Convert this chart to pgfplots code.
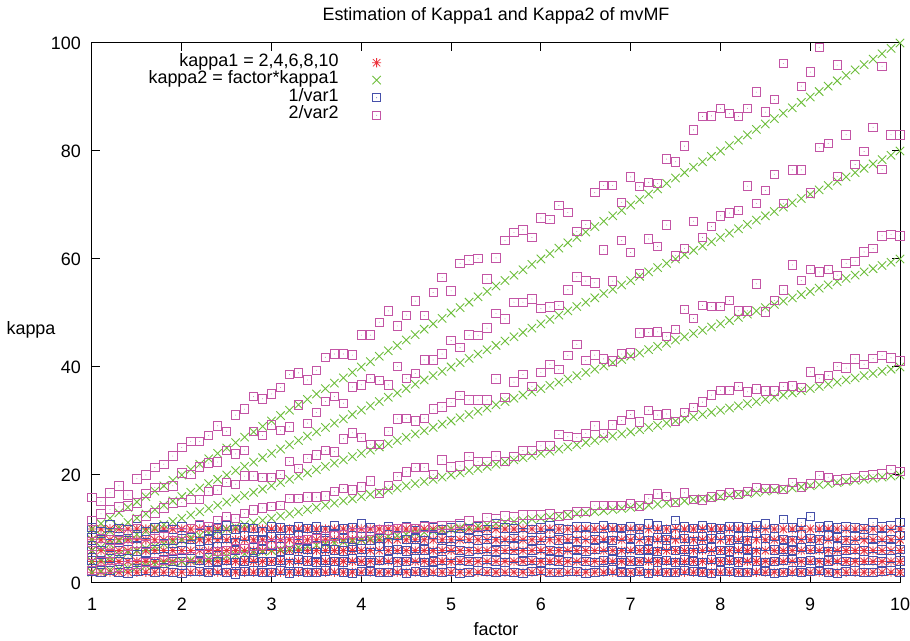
\documentclass[border=0pt]{standalone}
\usepackage{pgfplots}
\pgfplotsset{compat=1.18}
\usepackage{pgfplotstable}
\usepackage{fontspec}
\setmainfont{Liberation Sans}
\definecolor{gpred}{RGB}{236,50,60}
\definecolor{gpgreen}{RGB}{110,190,60}
\definecolor{gpblue}{RGB}{70,80,170}
\definecolor{gpmag}{RGB}{195,85,165}
\pgfdeclareplotmark{gpast}{%
  \pgfpathmoveto{\pgfqpoint{-\pgfplotmarksize}{0pt}}%
  \pgfpathlineto{\pgfqpoint{\pgfplotmarksize}{0pt}}%
  \pgfpathmoveto{\pgfqpoint{0pt}{-\pgfplotmarksize}}%
  \pgfpathlineto{\pgfqpoint{0pt}{\pgfplotmarksize}}%
  \pgfpathmoveto{\pgfqpoint{-0.8\pgfplotmarksize}{-0.8\pgfplotmarksize}}%
  \pgfpathlineto{\pgfqpoint{0.8\pgfplotmarksize}{0.8\pgfplotmarksize}}%
  \pgfpathmoveto{\pgfqpoint{-0.8\pgfplotmarksize}{0.8\pgfplotmarksize}}%
  \pgfpathlineto{\pgfqpoint{0.8\pgfplotmarksize}{-0.8\pgfplotmarksize}}%
  \pgfusepathqstroke}
\pgfdeclareplotmark{gpx}{%
  \pgfpathmoveto{\pgfqpoint{-\pgfplotmarksize}{-\pgfplotmarksize}}%
  \pgfpathlineto{\pgfqpoint{\pgfplotmarksize}{\pgfplotmarksize}}%
  \pgfpathmoveto{\pgfqpoint{-\pgfplotmarksize}{\pgfplotmarksize}}%
  \pgfpathlineto{\pgfqpoint{\pgfplotmarksize}{-\pgfplotmarksize}}%
  \pgfusepathqstroke}
\pgfdeclareplotmark{gpsq}{%
  \pgfpathrectangle{\pgfqpoint{-\pgfplotmarksize}{-\pgfplotmarksize}}{\pgfqpoint{2\pgfplotmarksize}{2\pgfplotmarksize}}%
  \pgfusepathqstroke
  \pgfpathcircle{\pgfpointorigin}{0.45pt}\pgfusepathqfill}
\pgfplotsset{
  gpr/.style={only marks, color=gpred, mark=gpast, mark size=4.6bp, mark options={line width=0.8bp}},
  gpg/.style={only marks, color=gpgreen, mark=gpx, mark size=4.2bp, mark options={line width=0.9bp}},
  gpb/.style={only marks, color=gpblue, mark=gpsq, mark size=4.2bp, mark options={line width=0.9bp}},
  gpm/.style={only marks, color=gpmag, mark=gpsq, mark size=4.2bp, mark options={line width=0.9bp}},
}
\pgfplotstableread{
x r2 r4 r6 r8 r10 g2 g4 g6 g8 g10 b2 b4 b6 b8 b10 m2 m4 m6 m8 m10
1.0 2 4 6 8 10 2 4 6 8 10 2.1 4.2 6.3 8.4 10.3 2.3 5.2 7.6 11.5 15.8
1.1 2 4 6 8 10 2.2 4.4 6.6 8.8 11 1.9 3.8 5.7 7.6 9.6 2.5 5.6 8.2 12.8 15.1
1.2 2 4 6 8 10 2.4 4.8 7.2 9.6 12 2.3 4.5 6.6 8.8 10.8 2.7 5.5 8.0 13.6 16.7
1.3 2 4 6 8 10 2.6 5.2 7.8 10.4 13 2.0 4.0 5.9 8.1 10.1 2.9 6.3 9.4 14.1 18.0
1.4 2 4 6 8 10 2.8 5.6 8.4 11.2 14 1.8 3.7 6.1 7.8 9.8 3.3 6.8 9.0 14.3 16.3
1.5 2 4 6 8 10 3 6 9 12 15 2.2 4.3 6.8 8.5 10.5 3.4 7.4 11.7 14.8 19.3
1.6 2 4 6 8 10 3.2 6.4 9.6 12.8 16 2.4 4.1 5.6 7.4 9.5 3.8 7.1 12.4 16.6 20.0
1.7 2 4 6 8 10 3.4 6.8 10.2 13.6 17 1.9 3.6 6.2 8.3 10.2 3.9 8.3 13.0 17.7 21.4
1.8 2 4 6 8 10 3.6 7.2 10.8 14.4 18 2.1 4.4 6.4 8.9 10.4 4.2 8.6 13.9 17.7 22.0
1.9 2 4 6 8 10 3.8 7.6 11.4 15.2 19 2.0 4.0 5.8 7.9 9.9 4.5 9.4 14.8 18.0 23.5
2.0 2 4 6 8 10 4 8 12 16 20 1.8 3.9 6.0 8.2 10.4 4.7 9.3 14.9 20.4 25.1
2.1 2 4 6 8 10 4.2 8.4 12.6 16.8 21 2.2 4.6 6.5 8.6 10.0 4.9 10.1 15.5 20.1 26.2
2.2 2 4 6 8 10 4.4 8.8 13.2 17.6 22 2.1 4.2 5.5 7.7 10.7 5.3 10.8 15.5 21.5 26.2
2.3 2 4 6 8 10 4.6 9.2 13.8 18.4 23 1.9 3.8 6.3 8.0 9.7 5.4 10.5 16.9 22.2 27.3
2.4 2 4 6 8 10 4.8 9.6 14.4 19.2 24 2.3 4.0 6.7 9.0 10.2 5.8 11.6 17.2 22.4 29.1
2.5 2 4 6 8 10 5 10 15 20 25 2.0 4.3 5.9 8.3 10.6 5.9 12.3 18.6 24.6 28.1
2.6 2 4 6 8 10 5.2 10.4 15.6 20.8 26 1.7 3.7 6.1 7.5 9.9 6.3 12.0 18.3 23.9 31.1
2.7 2 4 6 8 10 5.4 10.8 16.2 21.6 27 2.1 4.1 6.4 8.7 10.3 6.4 12.9 19.8 24.6 32.2
2.8 2 4 6 8 10 5.6 11.2 16.8 22.4 28 2.2 4.5 5.7 8.1 10.1 6.8 13.5 19.8 28.1 34.5
2.9 2 4 6 8 10 5.8 11.6 17.4 23.2 29 1.9 3.9 6.2 7.9 9.6 6.9 13.9 19.5 27.3 34.1
3.0 2 4 6 8 10 6 12 18 24 30 2.0 4.0 6.9 8.5 10.5 7.2 14.2 19.5 29.3 35.0
3.1 2 4 6 8 10 6.2 12.4 18.6 24.8 31 2.3 4.2 5.8 8.2 10.2 7.3 14.4 20.1 28.3 36.2
3.2 2 4 6 8 10 6.4 12.8 19.2 25.6 32 1.8 3.6 6.0 7.6 9.8 7.6 15.7 22.5 28.9 38.6
3.3 2 4 6 8 10 6.6 13.2 19.8 26.4 33 2.1 4.4 6.5 8.9 10.4 7.9 15.7 21.2 33.0 38.9
3.4 2 4 6 8 10 6.8 13.6 20.4 27.2 34 2.0 4.1 6.2 8.0 10.1 8.1 15.9 23.1 29.6 37.6
3.5 2 4 6 8 10 7 14 21 28 35 1.9 3.8 5.6 8.4 10.4 8.2 15.9 23.7 31.6 39.4
3.6 2 4 6 8 10 7.2 14.4 21.6 28.8 36 2.2 4.3 6.4 7.8 9.7 8.6 16.1 24.5 33.6 41.8
3.7 2 4 6 8 10 7.4 14.8 22.2 29.6 37 2.4 4.0 6.1 9.1 10.6 8.7 16.9 24.3 34.5 42.4
3.8 2 4 6 8 10 7.6 15.2 22.8 30.4 38 2.0 3.9 5.9 8.2 10.0 9.0 17.5 26.7 33.3 42.4
3.9 2 4 6 8 10 7.8 15.6 23.4 31.2 39 1.8 4.6 6.6 7.7 10.3 9.3 17.2 27.8 36.3 42.2
4.0 2 4 6 8 10 8 16 24 32 40 2.1 4.1 6.3 8.6 10.9 9.3 17.8 26.9 36.7 45.9
4.1 2 4 6 8 10 8.2 16.4 24.6 32.8 41 2.2 3.7 5.7 8.0 10.2 9.6 18.9 25.7 37.9 45.9
4.2 2 4 6 8 10 8.4 16.8 25.2 33.6 42 1.9 4.2 6.8 8.3 9.8 9.9 16.6 25.7 37.5 48.3
4.3 2 4 6 8 10 8.6 17.2 25.8 34.4 43 2.0 4.4 6.0 7.5 10.5 9.8 18.1 28.1 36.7 50.4
4.4 2 4 6 8 10 8.8 17.6 26.4 35.2 44 2.3 3.9 6.2 8.8 10.1 10.1 19.7 30.4 40.1 47.6
4.5 2 4 6 8 10 9 18 27 36 45 1.8 4.0 5.9 8.1 10.4 10.3 20.6 30.5 37.9 49.6
4.6 2 4 6 8 10 9.2 18.4 27.6 36.8 46 2.1 4.5 6.5 8.4 9.7 10.1 21.4 30.0 38.8 52.2
4.7 2 4 6 8 10 9.4 18.8 28.2 37.6 47 2.0 3.8 6.1 7.9 10.6 10.4 21.4 30.5 41.3 49.5
4.8 2 4 6 8 10 9.6 19.2 28.8 38.4 48 2.2 4.1 5.6 9.0 10.2 10.4 20.1 32.2 41.3 53.8
4.9 2 4 6 8 10 9.8 19.6 29.4 39.2 49 1.9 4.3 6.4 8.2 9.9 10.7 22.8 32.6 42.4 56.6
5.0 2 4 6 8 10 10 20 30 40 50 2.1 3.6 6.7 7.8 10.3 10.7 21.5 33.4 44.9 54.1
5.1 2 4 6 8 10 10.2 20.4 30.6 40.8 51 1.8 4.2 6.0 8.6 10.7 11.0 21.7 34.7 43.6 59.2
5.2 2 4 6 8 10 10.4 20.8 31.2 41.6 52 2.0 4.0 5.8 8.3 10.0 11.5 23.4 33.9 45.9 59.8
5.3 2 4 6 8 10 10.6 21.2 31.8 42.4 53 2.3 3.9 6.3 8.0 10.4 10.6 22.5 33.9 45.8 60.1
5.4 2 4 6 8 10 10.8 21.6 32.4 43.2 54 2.1 4.4 6.5 8.9 9.8 12.1 22.5 33.9 47.2 56.3
5.5 2 4 6 8 10 11 22 33 44 55 1.9 4.1 5.9 7.7 10.9 12.0 23.5 37.8 49.9 60.2
5.6 2 4 6 8 10 11.2 22.4 33.6 44.8 56 2.2 3.8 6.2 8.5 10.2 12.4 22.5 34.4 48.9 63.4
5.7 2 4 6 8 10 11.4 22.8 34.2 45.6 57 2.0 4.6 6.9 8.2 10.1 12.2 23.4 37.2 52.0 64.9
5.8 2 4 6 8 10 11.6 23.2 34.8 46.4 58 1.8 4.0 5.7 8.7 10.9 12.6 24.5 38.6 52.0 65.4
5.9 2 4 6 8 10 11.8 23.6 35.4 47.2 59 2.1 4.2 6.1 7.9 9.9 12.6 24.6 36.4 52.6 64.0
6.0 2 4 6 8 10 12 24 36 48 60 2.3 3.7 6.4 8.4 10.3 12.6 25.4 39.0 50.8 67.6
6.1 2 4 6 8 10 12.2 24.4 36.6 48.8 61 2.0 4.3 6.0 9.2 10.6 12.8 25.4 40.5 51.1 67.3
6.2 2 4 6 8 10 12.4 24.8 37.2 49.6 62 1.9 4.1 5.8 8.0 10.0 12.3 27.5 39.5 51.4 69.9
6.3 2 4 6 8 10 12.6 25.2 37.8 50.4 63 2.2 3.9 6.6 8.3 9.8 12.6 27.1 42.1 54.3 68.6
6.4 2 4 6 8 10 12.8 25.6 38.4 51.2 64 2.1 4.5 6.2 7.6 10.4 13.2 26.9 44.2 56.7 65.1
6.5 2 4 6 8 10 13 26 39 52 65 1.8 4.0 5.9 8.8 10.5 13.3 27.7 41.2 55.9 66.4
6.6 2 4 6 8 10 13.2 26.4 39.6 52.8 66 2.0 3.8 6.3 8.1 10.2 14.4 29.1 42.2 55.6 72.3
6.7 2 4 6 8 10 13.4 26.8 40.2 53.6 67 2.2 4.2 6.7 8.5 10.7 14.4 27.7 41.5 61.7 73.6
6.8 2 4 6 8 10 13.6 27.2 40.8 54.4 68 2.4 4.4 6.0 7.9 10.3 14.4 29.3 41.1 55.9 73.6
6.9 2 4 6 8 10 13.8 27.6 41.4 55.2 69 1.9 3.7 5.7 8.7 10.1 14.4 30.1 42.4 63.4 70.5
7.0 2 4 6 8 10 14 28 42 56 70 2.0 4.1 6.5 8.2 10.5 14.7 31.2 42.6 61.2 75.2
7.1 2 4 6 8 10 14.2 28.4 42.6 56.8 71 2.1 4.0 6.1 8.9 10.0 14.3 29.8 46.3 57.3 73.4
7.2 2 4 6 8 10 14.4 28.8 43.2 57.6 72 1.8 4.6 6.3 7.8 10.9 15.6 32.0 46.4 63.7 74.2
7.3 2 4 6 8 10 14.6 29.2 43.8 58.4 73 2.2 3.9 5.8 8.4 10.6 16.5 31.1 46.5 62.3 74.0
7.4 2 4 6 8 10 14.8 29.6 44.4 59.2 74 2.0 4.2 6.9 8.0 9.9 16.0 31.3 45.7 66.3 78.5
7.5 2 4 6 8 10 15 30 45 60 75 1.9 3.8 6.0 9.1 11.6 14.9 29.9 46.9 60.6 78.0
7.6 2 4 6 8 10 15.2 30.4 45.6 60.8 76 2.3 4.3 6.2 8.3 10.4 16.7 31.6 50.7 61.9 80.9
7.7 2 4 6 8 10 15.4 30.8 46.2 61.6 77 2.1 4.1 5.6 7.7 10.1 15.5 32.5 49.0 67.0 83.9
7.8 2 4 6 8 10 15.6 31.2 46.8 62.4 78 2.0 3.7 6.4 8.6 10.7 15.4 33.5 51.4 64.0 86.4
7.9 2 4 6 8 10 15.8 31.6 47.4 63.2 79 1.8 4.4 6.6 8.2 10.3 15.9 34.8 51.2 66.0 86.5
8.0 2 4 6 8 10 16 32 48 64 80 2.2 4.0 6.0 8.8 10.0 16.3 35.7 51.2 68.0 87.9
8.1 2 4 6 8 10 16.2 32.4 48.6 64.8 81 2.1 4.2 5.9 8.0 10.5 16.8 35.7 52.3 68.5 86.9
8.2 2 4 6 8 10 16.4 32.8 49.2 65.6 82 1.9 3.9 6.5 8.5 10.4 16.4 36.4 50.4 69.0 86.4
8.3 2 4 6 8 10 16.6 33.2 49.8 66.4 83 2.0 4.5 6.2 7.9 10.2 16.9 35.4 50.4 73.5 87.9
8.4 2 4 6 8 10 16.8 33.6 50.4 67.2 84 2.4 4.1 5.7 9.3 10.6 17.7 35.9 55.4 70.3 90.9
8.5 2 4 6 8 10 17 34 51 68 85 2.1 3.8 6.8 8.2 10.9 17.5 35.6 50.2 72.7 87.2
8.6 2 4 6 8 10 17.2 34.4 51.6 68.8 86 1.8 4.0 6.1 8.6 10.1 17.5 35.6 52.3 75.7 89.5
8.7 2 4 6 8 10 17.4 34.8 52.2 69.6 87 2.0 4.3 6.3 8.1 11.8 17.3 36.4 54.3 70.3 96.2
8.8 2 4 6 8 10 17.6 35.2 52.8 70.4 88 2.2 4.6 5.9 7.8 10.3 18.6 36.5 58.9 76.5 nan
8.9 2 4 6 8 10 17.8 35.6 53.4 71.2 89 1.9 3.9 6.6 8.9 11.2 17.8 36.2 56.0 76.5 92.0
9.0 2 4 6 8 10 18 36 54 72 90 2.1 4.2 6.2 8.3 12.3 18.4 39.1 58.1 72.2 94.6
9.1 2 4 6 8 10 18.2 36.4 54.6 72.8 91 2.3 3.7 6.4 8.0 10.4 19.9 37.9 57.6 80.6 99.2
9.2 2 4 6 8 10 18.4 36.8 55.2 73.6 92 2.0 4.1 5.8 8.7 10.6 19.6 38.4 58.1 81.4 nan
9.3 2 4 6 8 10 18.6 37.2 55.8 74.4 93 1.8 4.4 6.7 8.4 10.2 19.1 40.1 57.0 75.3 95.9
9.4 2 4 6 8 10 18.8 37.6 56.4 75.2 94 2.1 4.0 6.0 7.9 10.5 19.3 39.8 59.2 83.0 nan
9.5 2 4 6 8 10 19 38 57 76 95 2.2 3.8 6.3 8.6 10.3 19.5 41.5 59.6 77.5 nan
9.6 2 4 6 8 10 19.2 38.4 57.6 76.8 96 1.9 4.3 5.9 9.0 10.0 19.9 40.5 61.3 79.9 nan
9.7 2 4 6 8 10 19.4 38.8 58.2 77.6 97 2.0 4.2 6.5 8.2 11.2 20.1 41.6 61.9 84.4 nan
9.8 2 4 6 8 10 19.6 39.2 58.8 78.4 98 2.1 3.9 6.1 8.5 10.4 20.2 42.1 64.3 76.6 95.7
9.9 2 4 6 8 10 19.8 39.6 59.4 79.2 99 2.3 4.5 6.8 8.1 10.7 21.0 41.7 64.5 83.0 nan
10.0 2 4 6 8 10 20 40 60 80 100 2.0 4.1 6.2 8.8 11.2 20.7 41.1 64.3 83.0 nan
}\data
\begin{document}
\fontsize{18}{21.5}\selectfont
\begin{tikzpicture}[x=1bp,y=1bp]
\useasboundingbox (-92,-58) rectangle (818,583);
\begin{axis}[
  at={(0,0)}, anchor=south west,
  scale only axis, width=808bp, height=540bp,
  xmin=1, xmax=10, ymin=0, ymax=100,
  xtick={1,2,3,4,5,6,7,8,9,10}, ytick={0,20,40,60,80,100},
  tick align=inside, major tick length=8bp,
  tick style={black, line width=1bp},
  axis line style={black, line width=1bp},
  clip=false,
  /pgf/number format/assume math mode=true,
  xticklabel style={anchor=center, yshift=-21bp},
  yticklabel style={anchor=east, inner sep=0pt, xshift=-11bp},
  every axis title/.style={at={(axis description cs:0.5,1)}, anchor=center, yshift=27bp},
  every axis x label/.style={at={(axis description cs:0.5,0)}, anchor=center, yshift=-46bp},
  every axis y label/.style={at={(axis description cs:0,0.5)}, anchor=center, xshift=-61bp, yshift=-17bp},
  title={Estimation of Kappa1 and Kappa2 of mvMF},
  xlabel={factor}, ylabel={kappa},
  legend plot pos=right, legend cell align=right,
  legend style={at={(rel axis cs:0.3582,0.9805)}, anchor=north east, draw=none, fill=none,
    inner sep=0pt, row sep=-0.5bp,
    nodes={inner sep=0pt, text height=12.5bp, text depth=5.5bp},
    /tikz/every odd column/.append style={column sep=33.5bp}},
]
\addplot[gpr] table[x=x,y=r2]{\data}; \addlegendentry{kappa1 = 2,4,6,8,10}
\addplot[gpr, forget plot] table[x=x,y=r4]{\data};
\addplot[gpr, forget plot] table[x=x,y=r6]{\data};
\addplot[gpr, forget plot] table[x=x,y=r8]{\data};
\addplot[gpr, forget plot] table[x=x,y=r10]{\data};
\addplot[gpg] table[x=x,y=g2]{\data}; \addlegendentry{kappa2 = factor*kappa1}
\addplot[gpg, forget plot] table[x=x,y=g4]{\data};
\addplot[gpg, forget plot] table[x=x,y=g6]{\data};
\addplot[gpg, forget plot] table[x=x,y=g8]{\data};
\addplot[gpg, forget plot] table[x=x,y=g10]{\data};
\addplot[gpb] table[x=x,y=b2]{\data}; \addlegendentry{1/var1}
\addplot[gpb, forget plot] table[x=x,y=b4]{\data};
\addplot[gpb, forget plot] table[x=x,y=b6]{\data};
\addplot[gpb, forget plot] table[x=x,y=b8]{\data};
\addplot[gpb, forget plot] table[x=x,y=b10]{\data};
\addplot[gpm] table[x=x,y=m2]{\data}; \addlegendentry{2/var2}
\addplot[gpm, forget plot] table[x=x,y=m4]{\data};
\addplot[gpm, forget plot] table[x=x,y=m6]{\data};
\addplot[gpm, forget plot] table[x=x,y=m8]{\data};
\addplot[gpm, forget plot] table[x=x,y=m10]{\data};
\end{axis}
\end{tikzpicture}
\end{document}
